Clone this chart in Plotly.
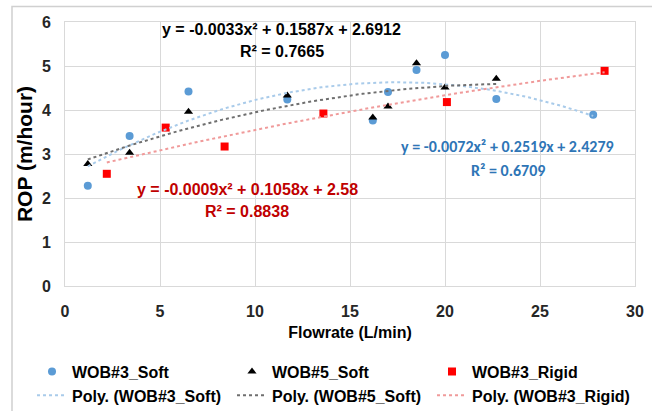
import numpy as np
import plotly.graph_objects as go

# ---- data ----
soft3_x = [1.2, 3.4, 6.5, 11.7, 16.2, 17.0, 18.5, 20.0, 22.7, 27.8]
soft3_y = [2.28, 3.41, 4.42, 4.24, 3.76, 4.41, 4.91, 5.25, 4.25, 3.89]
soft5_x = [1.2, 3.4, 6.5, 11.7, 16.2, 17.0, 18.5, 20.0, 22.7]
soft5_y = [2.77, 3.03, 3.96, 4.33, 3.83, 4.08, 5.06, 4.51, 4.71]
rigid3_x = [2.2, 5.3, 8.4, 13.6, 20.1, 28.4]
rigid3_y = [2.55, 3.60, 3.17, 3.92, 4.18, 4.89]

# trendline coefficients shown on the chart (a, b, c) for a*x^2 + b*x + c
soft3_coef = [-0.0072, 0.2519, 2.4279]
soft5_coef = [-0.0033, 0.1587, 2.6912]
rigid3_coef = [-0.0009, 0.1058, 2.58]
soft3_r2 = "0.6709"
soft5_r2 = "0.7665"
rigid3_r2 = "0.8838"

x_ticks = [0, 5, 10, 15, 20, 25, 30]
y_ticks = [0, 1, 2, 3, 4, 5, 6]

SANS = "Liberation Sans, Arial, sans-serif"
CAL = "Carlito, Calibri, Lato, sans-serif"

def fit_curve(xs, coef):
    xx = np.linspace(min(xs), max(xs), 120)
    return xx, np.polyval(coef, xx)

fig = go.Figure()
fig.add_trace(go.Scatter(x=soft3_x, y=soft3_y, mode="markers", name="<b>WOB#3_Soft</b>",
                         marker=dict(symbol="circle", size=8, color="#5B9BD5")))
fig.add_trace(go.Scatter(x=soft5_x, y=soft5_y, mode="markers", name="<b>WOB#5_Soft</b>",
                         marker=dict(symbol="triangle-up", size=8, color="#000000")))
fig.add_trace(go.Scatter(x=rigid3_x, y=rigid3_y, mode="markers", name="<b>WOB#3_Rigid</b>",
                         marker=dict(symbol="square", size=8, color="#FF0000")))

for xs, coef, nm, col in [
    (soft3_x, soft3_coef, "<b>Poly. (WOB#3_Soft)</b>", "#A9CBEA"),
    (soft5_x, soft5_coef, "<b>Poly. (WOB#5_Soft)</b>", "#6F6F6F"),
    (rigid3_x, rigid3_coef, "<b>Poly. (WOB#3_Rigid)</b>", "#F09A9A"),
]:
    xx, yy = fit_curve(xs, coef)
    fig.add_trace(go.Scatter(x=xx, y=yy, mode="lines", name=nm,
                             line=dict(color=col, width=2, dash="dot")))

def eq_text(coef):
    a, b, c = coef
    return f"y = {a:.4f}x² + {b:.4f}x + {c:g}"

anns = [
    (11.4, 5.82, eq_text(soft5_coef), "#000000", SANS, 16),
    (11.4, 5.34, f"R² = {soft5_r2}", "#000000", SANS, 16),
    (9.6, 2.20, eq_text(rigid3_coef), "#C00000", SANS, 16),
    (9.6, 1.70, f"R² = {rigid3_r2}", "#C00000", SANS, 16),
    (23.3, 3.17, eq_text(soft3_coef), "#2E75B6", CAL, 16),
    (23.3, 2.62, f"R² = {soft3_r2}", "#2E75B6", CAL, 16),
]
for x, y, t, c, f, s in anns:
    fig.add_annotation(x=x, y=y, text=f"<b>{t}</b>", showarrow=False,
                       font=dict(family=f, size=s, color=c),
                       xanchor="center", yanchor="middle")

ml, mr, mt, mb = 65, 17, 22, 125
pw, ph = 652 - ml - mr, 411 - mt - mb
fig.add_shape(type="rect", xref="paper", yref="paper",
              x0=(12 - ml) / pw, x1=(700 - ml) / pw,
              y0=(mt + ph - 460) / ph, y1=1 + (mt - 6.5) / ph,
              line=dict(color="#D0D0D0", width=1.5), fillcolor="rgba(0,0,0,0)", layer="above")

axis_common = dict(showgrid=True, gridcolor="#D9D9D9", gridwidth=1, zeroline=False,
                   showline=True, linecolor="#D9D9D9", linewidth=1, mirror=True,
                   automargin=False,
                   ticks="", tickfont=dict(family=SANS, size=16, color="#262626"))
fig.update_xaxes(range=[0, 30], tickvals=x_ticks, ticktext=[f"<b>{v}</b>" for v in x_ticks],
                 title=dict(text="<b>Flowrate (L/min)</b>", font=dict(family=SANS, size=16, color="#000000"), standoff=7),
                 ticklabelstandoff=11, **axis_common)
fig.update_yaxes(range=[0, 6], tickvals=y_ticks, ticktext=[f"<b>{v}</b>" for v in y_ticks],
                 title=dict(text="<b>ROP (m/hour)</b>", font=dict(family=SANS, size=21, color="#000000"), standoff=3),
                 ticklabelstandoff=10, **axis_common)

fig.update_layout(
    width=652, height=411,
    margin=dict(l=ml, r=mr, t=mt, b=mb, autoexpand=False),
    plot_bgcolor="white", paper_bgcolor="white",
    legend=dict(orientation="h", x=(32 - ml) / pw, xanchor="left", y=-0.26, yanchor="top",
                entrywidth=155, font=dict(family=SANS, size=16, color="#000000"),
                itemwidth=30, traceorder="normal", bgcolor="rgba(0,0,0,0)"),
)
fig.write_html("out.html")
